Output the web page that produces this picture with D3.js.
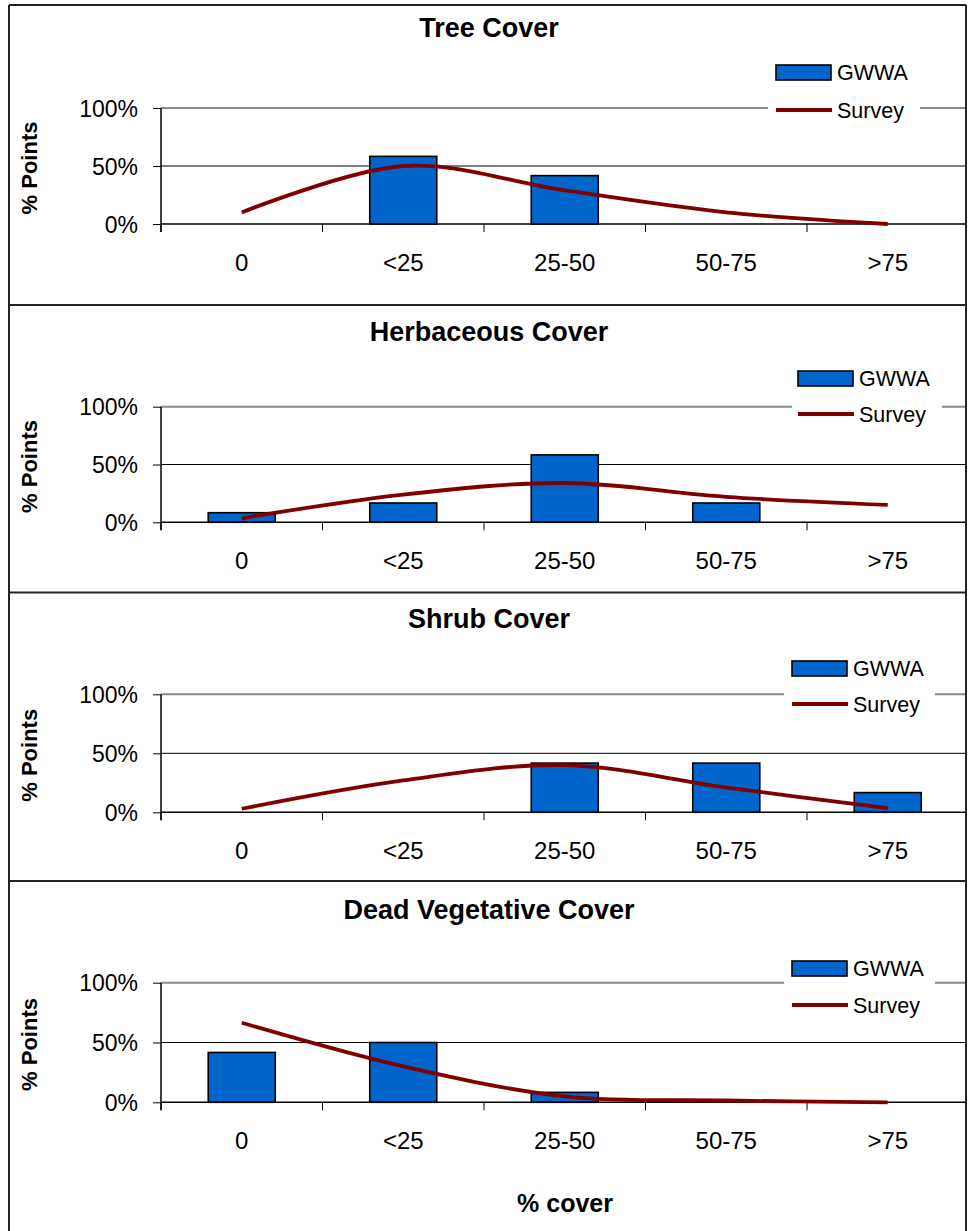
<!DOCTYPE html>
<html>
<head>
<meta charset="utf-8">
<script src="https://cdn.jsdelivr.net/npm/d3@7"></script>
<style>
  html, body { margin: 0; padding: 0; background: #fff; }
  svg { display: block; font-family: "Liberation Sans", Arial, sans-serif; }
</style>
</head>
<body>
<svg id="chart" width="971" height="1231"></svg>
<script>
// ---------------- data ----------------
const categories = ["0", "<25", "25-50", "50-75", ">75"];
const panelTitles = ["Tree Cover", "Herbaceous Cover", "Shrub Cover", "Dead Vegetative Cover"];
const seriesNames = ["GWWA", "Survey"];
const yTickValues = [0, 0.5, 1];
const yAxisTitle = "% Points";
const xAxisTitle = "% cover";

const gwwaTree  = [0.0, 0.583, 0.417, 0.0, 0.0];
const surveyTree = [0.10, 0.50, 0.29, 0.10, 0.0];

const gwwaHerb  = [0.083, 0.167, 0.583, 0.167, 0.0];
const surveyHerb = [0.035, 0.24, 0.34, 0.22, 0.15];

const gwwaShrub  = [0.0, 0.0, 0.417, 0.417, 0.167];
const surveyShrub = [0.03, 0.27, 0.40, 0.21, 0.035];

const gwwaDead  = [0.417, 0.50, 0.083, 0.0, 0.0];
const surveyDead = [0.665, 0.30, 0.05, 0.015, 0.0];

// ---------------- layout (positions only) ----------------
const layout = [
  { top: 5,     bottom: 305,   y100: 108,   y0: 224,   titleY: 36.7,  lg: { x: 776, sy: 65,  ly: 110,  bl: 768, br: 920 } },
  { top: 305,   bottom: 592.5, y100: 406.7, y0: 522.3, titleY: 340.7, lg: { x: 798, sy: 371, ly: 414,  bl: 792, br: 942 } },
  { top: 592.5, bottom: 881,   y100: 694.3, y0: 812.3, titleY: 628.3, lg: { x: 792, sy: 661, ly: 704,  bl: 784, br: 935 } },
  { top: 881,   bottom: 1240,  y100: 982.7, y0: 1102.3, titleY: 919, lg: { x: 792, sy: 961, ly: 1005, bl: 784, br: 935 } }
];
const gwwaAll = [gwwaTree, gwwaHerb, gwwaShrub, gwwaDead];
const surveyAll = [surveyTree, surveyHerb, surveyShrub, surveyDead];

const LEFT = 9, RIGHT = 966;
const plotL = 161, plotR = 968.5;
const barColor = "#0066CC", lineColor = "#800000";
const FONT = "'Liberation Sans', Arial, sans-serif";

const svg = d3.select("#chart");
svg.append("defs").append("clipPath").attr("id", "clip")
  .append("rect").attr("x", LEFT).attr("y", 0).attr("width", RIGHT - LEFT).attr("height", 1231);

// x scales
const xOuter = d3.scaleBand().domain(categories).range([plotL, plotR]).padding(0);
const xBar = d3.scaleBand().domain(categories).range([plotL, plotR]).paddingInner(0.585).paddingOuter(0.2925);

layout.forEach((L, i) => {
  const g = svg.append("g").attr("clip-path", "url(#clip)");
  const y = d3.scaleLinear().domain([0, 1]).range([L.y0, L.y100]);

  // title
  svg.append("text").attr("x", 489).attr("y", L.titleY)
    .attr("text-anchor", "middle").attr("font-weight", "bold").attr("font-size", 27)
    .text(panelTitles[i]);

  // gridlines
  g.append("line").attr("x1", plotL).attr("x2", plotR)
    .attr("y1", y(1)).attr("y2", y(1)).attr("stroke", "#8a8a8a").attr("stroke-width", 2);
  g.append("line").attr("x1", plotL).attr("x2", plotR)
    .attr("y1", y(0.5)).attr("y2", y(0.5)).attr("stroke", "#000").attr("stroke-width", 1);

  // bars
  g.selectAll("rect.bar").data(categories.map((c, k) => ({ c, v: gwwaAll[i][k] })).filter(d => d.v > 0))
    .enter().append("rect").attr("class", "bar")
    .attr("x", d => xBar(d.c)).attr("width", xBar.bandwidth())
    .attr("y", d => y(d.v)).attr("height", d => y(0) - y(d.v))
    .attr("fill", barColor).attr("stroke", "#000").attr("stroke-width", 1.6);

  // y axis
  const yAxis = d3.axisLeft(y).tickValues(yTickValues).tickSize(8).tickFormat(d3.format(".0%"));
  const ya = svg.append("g").attr("transform", `translate(${plotL},0)`).call(yAxis);
  ya.select(".domain").remove();
  ya.selectAll(".tick line").attr("stroke", "#000").attr("stroke-width", 1);
  ya.selectAll(".tick text").attr("x", -23).attr("dy", "0.35em")
    .attr("font-size", 23).attr("font-family", FONT).attr("fill", "#000");
  svg.append("line").attr("x1", plotL).attr("x2", plotL)
    .attr("y1", y(1)).attr("y2", y(0) + 8).attr("stroke", "#000").attr("stroke-width", 1.5);

  // x axis
  g.append("line").attr("x1", plotL).attr("x2", plotR)
    .attr("y1", y(0)).attr("y2", y(0)).attr("stroke", "#000").attr("stroke-width", 1.5);
  const bounds = categories.map(c => xOuter(c)).concat([plotR]);
  g.selectAll("line.xt").data(bounds).enter().append("line").attr("class", "xt")
    .attr("x1", d => d).attr("x2", d => d)
    .attr("y1", y(0)).attr("y2", y(0) + 8).attr("stroke", "#000").attr("stroke-width", 1);
  const xAxis = d3.axisBottom(xOuter).tickSize(0).tickPadding(0);
  const xa = svg.append("g").attr("transform", `translate(0,${y(0)})`).call(xAxis);
  xa.select(".domain").remove();
  xa.selectAll(".tick text").attr("y", 46.8).attr("dy", 0)
    .attr("font-size", 24).attr("font-family", FONT).attr("fill", "#000");

  // survey line
  const line = d3.line()
    .x((d, k) => xOuter(categories[k]) + xOuter.bandwidth() / 2)
    .y(d => y(d))
    .curve(d3.curveCatmullRom.alpha(0));
  g.append("path").datum(surveyAll[i]).attr("d", line)
    .attr("fill", "none").attr("stroke", lineColor).attr("stroke-width", 3.8)
    .attr("stroke-linejoin", "round");

  // y axis title
  svg.append("text")
    .attr("transform", `translate(37,${(y(0) + y(1)) / 2 + 2}) rotate(-90)`)
    .attr("text-anchor", "middle").attr("font-weight", "bold").attr("font-size", 22)
    .text(yAxisTitle);

  // legend
  const lg = L.lg;
  svg.append("rect").attr("x", lg.bl).attr("y", lg.sy - 8)
    .attr("width", lg.br - lg.bl).attr("height", lg.ly - lg.sy + 20).attr("fill", "#fff");
  svg.append("rect").attr("x", lg.x).attr("y", lg.sy).attr("width", 55).attr("height", 15)
    .attr("fill", barColor).attr("stroke", "#000").attr("stroke-width", 1.6);
  svg.append("text").attr("x", lg.x + 61).attr("y", lg.sy + 7.5 + 7.7)
    .attr("font-size", 21.5).text(seriesNames[0]);
  svg.append("line").attr("x1", lg.x).attr("x2", lg.x + 56)
    .attr("y1", lg.ly).attr("y2", lg.ly).attr("stroke", lineColor).attr("stroke-width", 3.8);
  svg.append("text").attr("x", lg.x + 61).attr("y", lg.ly + 7.7)
    .attr("font-size", 21.5).text(seriesNames[1]);
});

// x axis title (bottom)
svg.append("text").attr("x", 565).attr("y", 1211.7)
  .attr("text-anchor", "middle").attr("font-weight", "bold").attr("font-size", 25)
  .text(xAxisTitle);

// panel borders
layout.forEach(L => {
  svg.append("line").attr("x1", LEFT).attr("x2", RIGHT).attr("y1", L.top).attr("y2", L.top)
    .attr("stroke", "#222").attr("stroke-width", 2);
});
svg.append("line").attr("x1", LEFT).attr("x2", LEFT).attr("y1", 5).attr("y2", 1231)
  .attr("stroke", "#222").attr("stroke-width", 2);
svg.append("line").attr("x1", RIGHT).attr("x2", RIGHT).attr("y1", 5).attr("y2", 1231)
  .attr("stroke", "#222").attr("stroke-width", 2);
</script>
</body>
</html>
